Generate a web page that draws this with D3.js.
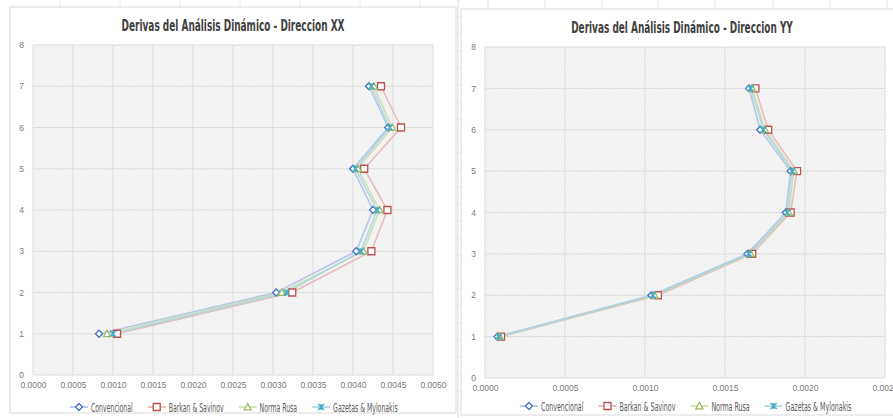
<!DOCTYPE html>
<html>
<head>
<meta charset="utf-8">
<script src="https://cdn.jsdelivr.net/npm/d3@7"></script>
<style>
  html, body { margin: 0; padding: 0; background: #ffffff; }
  svg { display: block; }
  .tick text { font-family: "Liberation Sans", Arial, sans-serif; font-size: 8.5px; fill: #7a7a7a; }
  .title { font-family: "DejaVu Sans Condensed", "Liberation Sans Narrow", sans-serif; font-weight: bold; font-size: 16px; fill: #404040; }
  .legend text { font-family: "DejaVu Sans Condensed", "Liberation Sans", sans-serif; font-size: 12.5px; fill: #595959; }
</style>
</head>
<body>
<svg id="chart" width="893" height="418"></svg>
<script>
// Storeys (floor levels)
const stories = [1, 2, 3, 4, 5, 6, 7];

// Inter-storey drifts, X direction
const xxConvencional = [0.000825, 0.00304, 0.00404, 0.00425, 0.00400, 0.00444, 0.00420];
const xxBarkan       = [0.00105, 0.00324, 0.00423, 0.00443, 0.00414, 0.00460, 0.00435];
const xxNormaRusa    = [0.000925, 0.00311, 0.00413, 0.00433, 0.00406, 0.00449, 0.00426];
const xxGazetas      = [0.00100, 0.00317, 0.00410, 0.00430, 0.00403, 0.00446, 0.00423];

// Inter-storey drifts, Y direction
const yyConvencional = [0.000078, 0.00104, 0.00164, 0.00188, 0.00191, 0.00172, 0.00165];
const yyBarkan       = [0.000100, 0.00108, 0.00167, 0.00191, 0.00195, 0.00177, 0.00169];
const yyNormaRusa    = [0.000092, 0.00106, 0.00166, 0.00190, 0.00193, 0.00175, 0.00167];
const yyGazetas      = [0.000088, 0.00105, 0.00165, 0.00189, 0.00192, 0.00174, 0.00166];

const seriesNames = ["Convencional", "Barkan & Savinov", "Norma Rusa", "Gazetas & Mylonakis"];
const xTicksXX = [0, 0.0005, 0.001, 0.0015, 0.002, 0.0025, 0.003, 0.0035, 0.004, 0.0045, 0.005];
const xTicksYY = [0, 0.0005, 0.001, 0.0015, 0.002, 0.0025];
const yTicks = [0, 1, 2, 3, 4, 5, 6, 7, 8];

const colors = ["#4472c4", "#c0504d", "#9bbb59", "#4bacc6"];
const lineColors = ["#a9c0e4", "#e6b3b1", "#cadca8", "#a6d6e3"];
const markers = ["diamond", "square", "triangle", "star"];

const svg = d3.select("#chart");

// hatched plot background
const defs = svg.append("defs");
const pat = defs.append("pattern").attr("id", "hatch").attr("patternUnits", "userSpaceOnUse")
  .attr("width", 3).attr("height", 3);
pat.append("rect").attr("width", 3).attr("height", 3).attr("fill", "#f6f6f6");
pat.append("path").attr("d", "M0,3 L3,0 M-1,1 L1,-1 M2,4 L4,2").attr("stroke", "#e8e8e8").attr("stroke-width", 0.8);

// sheet gridlines visible between the two chart objects
const sheet = svg.append("g");
sheet.append("line").attr("x1", 458).attr("x2", 458).attr("y1", 0).attr("y2", 418).attr("stroke", "#dadada");
d3.range(0, 418, 17).forEach(y => {
  sheet.append("line").attr("x1", 455).attr("x2", 461).attr("y1", y).attr("y2", y).attr("stroke", "#e6e6e6");
});
[488, 545, 602, 658, 715, 773, 830, 887].forEach(x => {
  sheet.append("line").attr("x1", x).attr("x2", x).attr("y1", 0).attr("y2", 9).attr("stroke", "#e6e6e6");
});
[60, 120, 180, 240, 300, 360, 420].forEach(x => {
  sheet.append("line").attr("x1", x).attr("x2", x).attr("y1", 0).attr("y2", 7).attr("stroke", "#eeeeee");
});

function markerPath(type, s) {
  const h = s / 2;
  if (type === "diamond") return `M0,${-h}L${h},0L0,${h}L${-h},0Z`;
  if (type === "square") return `M${-h},${-h}H${h}V${h}H${-h}Z`;
  if (type === "triangle") return `M0,${-h}L${h},${h * 0.8}L${-h},${h * 0.8}Z`;
  return `M${-h},${-h}L${h},${h}M${-h},${h}L${h},${-h}M0,${-h}V${h}`;
}

function drawMarker(g, type, i, x, y) {
  const m = g.append("path").attr("transform", `translate(${x},${y})`);
  if (type === "star") {
    m.attr("d", markerPath(type, 6)).attr("fill", "none").attr("stroke", colors[i]).attr("stroke-width", 1.6);
  } else {
    m.attr("d", markerPath(type, 7)).attr("fill", "#ffffff").attr("stroke", colors[i]).attr("stroke-width", 1.3);
  }
}

function chart(opts) {
  const { frame, plot, domainMax, xTicks, title, data, titleW, legendX, legendY, xLabelY } = opts;
  const g = svg.append("g");
  g.append("rect").attr("x", frame[0]).attr("y", frame[1]).attr("width", frame[2]).attr("height", frame[3])
    .attr("fill", "#ffffff").attr("stroke", "#d9d9d9");

  const x = d3.scaleLinear().domain([0, domainMax]).range([plot.left, plot.right]);
  const y = d3.scaleLinear().domain([0, 8]).range([plot.bottom, plot.top]);

  g.append("rect").attr("x", plot.left).attr("y", plot.top)
    .attr("width", plot.right - plot.left).attr("height", plot.bottom - plot.top).attr("fill", "url(#hatch)");

  // gridlines
  g.append("g").selectAll("line").data(xTicks).join("line")
    .attr("x1", d => x(d)).attr("x2", d => x(d)).attr("y1", plot.top).attr("y2", plot.bottom)
    .attr("stroke", "#dcdcdc").attr("stroke-width", 1);
  g.append("g").selectAll("line").data(yTicks).join("line")
    .attr("x1", plot.left).attr("x2", plot.right).attr("y1", d => y(d)).attr("y2", d => y(d))
    .attr("stroke", "#dcdcdc").attr("stroke-width", 1);

  // axes (labels only)
  const xAxis = g.append("g").attr("transform", `translate(0,${xLabelY})`)
    .call(d3.axisBottom(x).tickValues(xTicks).tickFormat(d3.format(".4f")).tickSize(0).tickPadding(0));
  xAxis.select(".domain").remove();
  const yAxis = g.append("g").attr("transform", `translate(${plot.left - 9},0)`)
    .call(d3.axisLeft(y).tickValues(yTicks).tickFormat(d3.format("d")).tickSize(0).tickPadding(0));
  yAxis.select(".domain").remove();
  yAxis.selectAll("text").attr("dy", "0.32em");

  // title, horizontally condensed to the chart's narrow lettering
  const tg = g.append("g");
  const tt = tg.append("text").attr("class", "title").attr("text-anchor", "middle").text(title);
  const tScale = titleW / tt.node().getComputedTextLength();
  tg.attr("transform", `translate(${opts.titleX},${plot.top - 14}) scale(${tScale},1)`);

  // series lines then markers
  const line = d3.line().x(d => x(d[0])).y(d => y(d[1]));
  data.forEach((vals, i) => {
    const pts = vals.map((v, k) => [v, stories[k]]);
    g.append("path").attr("d", line(pts)).attr("fill", "none")
      .attr("stroke", lineColors[i]).attr("stroke-width", 1.6).attr("stroke-opacity", 0.85);
  });
  data.forEach((vals, i) => {
    vals.forEach((v, k) => drawMarker(g, markers[i], i, x(v), y(stories[k])));
  });

  // legend (narrow lettering)
  const lg = g.append("g").attr("class", "legend");
  let cx = legendX;
  seriesNames.forEach((name, i) => {
    lg.append("line").attr("x1", cx).attr("x2", cx + 18).attr("y1", legendY).attr("y2", legendY)
      .attr("stroke", lineColors[i]).attr("stroke-width", 1.6);
    drawMarker(lg, markers[i], i, cx + 9, legendY);
    const holder = lg.append("g")
      .attr("transform", `translate(${cx + 21},${legendY + 4.5}) scale(${opts.squeeze},1)`);
    const t = holder.append("text").attr("x", 0).attr("y", 0).text(name);
    const w = t.node().getComputedTextLength() * opts.squeeze;
    cx += 21 + w + 15;
  });
}

chart({
  frame: [10, 7, 446, 406],
  plot: { left: 33, right: 433, top: 45, bottom: 375 },
  domainMax: 0.005, xTicks: xTicksXX,
  title: "Derivas del Análisis Dinámico - Direccion XX", titleX: 233, titleW: 223,
  data: [xxConvencional, xxBarkan, xxNormaRusa, xxGazetas],
  legendX: 70, legendY: 407, xLabelY: 382, squeeze: 0.55
});

chart({
  frame: [461, 9, 440, 406],
  plot: { left: 485, right: 885, top: 47, bottom: 378 },
  domainMax: 0.0025, xTicks: xTicksYY,
  title: "Derivas del Análisis Dinámico - Direccion YY", titleX: 682, titleW: 222,
  data: [yyConvencional, yyBarkan, yyNormaRusa, yyGazetas],
  legendX: 520, legendY: 406, xLabelY: 385, squeeze: 0.56
});
</script>
</body>
</html>
